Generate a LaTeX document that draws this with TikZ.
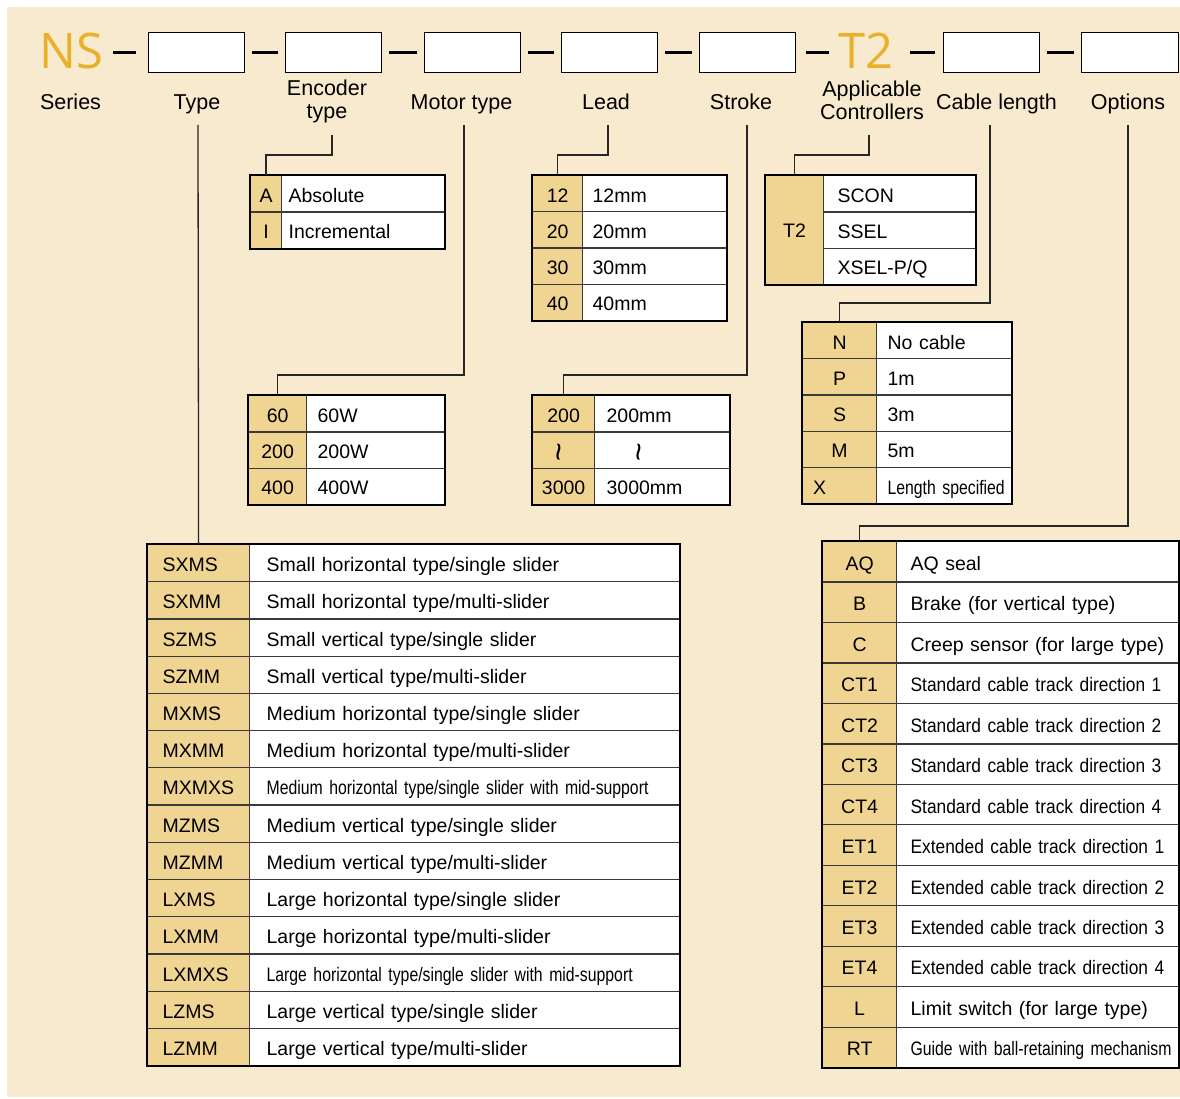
\documentclass[tikz,border=0pt]{standalone}
\usepackage{fontspec}
\usepackage{graphicx}
\setmainfont{Liberation Sans}
\newfontfamily\narrowsans{Liberation Sans}[FakeStretch=0.81,WordSpace=0.8]
\newfontfamily\semisans{Liberation Sans}[FakeStretch=0.89,WordSpace=0.85]
\newfontfamily\logofont{Open Sans}
\usetikzlibrary{positioning}
\definecolor{paper}{HTML}{F8EACE}
\definecolor{codefill}{HTML}{F0D491}
\definecolor{logoc}{HTML}{E9B129}
\definecolor{gridc}{HTML}{3A3A3A}
\newcommand\waveglyph{\rotatebox[origin=c]{90}{\fontsize{32}{32}\selectfont\textasciitilde}}
\tikzset{
  slot/.style={draw,fill=white,line width=1.3pt,minimum width=96pt,minimum height=40pt,inner sep=0pt},
  logo/.style={text=logoc,font=\logofont\fontsize{49}{49}\selectfont,inner sep=0pt},
  hyphen/.style={line width=2.6pt},
  lbl/.style={font=\fontsize{21.5}{23}\selectfont,inner sep=0pt,align=center},
  code/.style={draw=gridc,fill=codefill,line width=1.2pt,inner sep=0pt,anchor=north west,text height=17pt,text depth=0pt,font=\fontsize{19.5}{22}\selectfont},
  desc/.style={draw=gridc,fill=white,line width=1.2pt,inner ysep=0pt,anchor=north west,align=left,text height=17pt,text depth=0pt,font=\fontsize{19.5}{22}\selectfont},
  frame/.style={draw=black,line width=2pt},
  link/.style={draw=black!85,line width=1.3pt}
}
\begin{document}
\begin{tikzpicture}[x=1pt,y=-1pt]
  \fill[white] (0,0) rectangle (1180,1099);
  \fill[paper] (7,7) rectangle (1180,1097);
  \useasboundingbox (0,0) rectangle (1180,1099);

  \node[logo] (ns) at (71,51) {NS};
  \node[slot,anchor=north west] (b1) at (148,32) {};
  \node[slot,anchor=north west] (b2) at (285,32) {};
  \node[slot,anchor=north west] (b3) at (424,32) {};
  \node[slot,anchor=north west] (b4) at (561,32) {};
  \node[slot,anchor=north west] (b5) at (699,32) {};
  \node[logo] (t2) at (866,51) {T2};
  \node[slot,anchor=north west] (b6) at (943,32) {};
  \node[slot,anchor=north west,minimum width=97pt] (b7) at (1081,32) {};
  \draw[hyphen,shorten <=10pt,shorten >=12pt] (ns.east |- b1.west) -- (b1.west);
  \draw[hyphen,shorten <=7pt,shorten >=7pt] (b1) -- (b2);
  \draw[hyphen,shorten <=7pt,shorten >=7pt] (b2) -- (b3);
  \draw[hyphen,shorten <=7pt,shorten >=7pt] (b3) -- (b4);
  \draw[hyphen,shorten <=7pt,shorten >=7pt] (b4) -- (b5);
  \draw[hyphen,shorten <=10pt,shorten >=9pt] (b5.east) -- (b5.east -| t2.west);
  \draw[hyphen,shorten <=16pt,shorten >=8pt] (t2.east |- b6.west) -- (b6.west);
  \draw[hyphen,shorten <=7pt,shorten >=7pt] (b6) -- (b7);

  \node[lbl,anchor=base] (serieslbl) at (70.5,110) {Series};
  \node[lbl,anchor=base] (typelbl) at (197,110) {Type};
  \node[lbl,anchor=base] (enclbl) at (327,119) {Encoder\\type};
  \node[lbl,anchor=base] (motorlbl) at (461.5,110) {Motor type};
  \node[lbl,anchor=base] (leadlbl) at (606,110) {Lead};
  \node[lbl,anchor=base] (strokelbl) at (741,110) {Stroke};
  \node[lbl,anchor=base] (ctrllbl) at (872,120) {Applicable\\Controllers};
  \node[lbl,anchor=base] (cablelbl) at (996.5,110) {Cable length};
  \node[lbl,anchor=base] (optlbl) at (1128,110) {Options};

  \node[code,minimum width=31pt,minimum height=36.5pt] (encA) at (250,175) {A};
  \node[desc,text width=149pt,inner xsep=7pt,minimum height=36.5pt] (encAd) at (281,175) {Absolute};
  \node[code,minimum width=31pt,minimum height=36.5pt] (encI) at (250,211.5) {I};
  \node[desc,text width=149pt,inner xsep=7pt,minimum height=36.5pt] (encId) at (281,211.5) {Incremental};
  \draw[frame] (encA.north west) rectangle (encId.south east);

  \foreach \v [count=\i] in {12,20,30,40}{
    \node[code,minimum width=50pt,minimum height=36.25pt] (lead\i) at (532,{175+(\i-1)*36.25}) {\v};
    \node[desc,text width=124pt,inner xsep=10pt,minimum height=36.25pt] (leadd\i) at (582,{175+(\i-1)*36.25}) {\v mm};
  }
  \draw[frame] (lead1.north west) rectangle (leadd4.south east);

  \node[code,minimum width=58pt,minimum height=109pt,text height=14pt] (ctrlT) at (765,175) {T2};
  \foreach \ds [count=\i] in {SCON,SSEL,XSEL-P/Q}{
    \node[desc,text width=124pt,inner xsep=14pt,minimum height=36.33pt] (ctrld\i) at (823,{175+(\i-1)*36.33}) {\ds};
  }
  \draw[frame] (ctrlT.north west) rectangle (ctrld3.south east);

  \foreach \v [count=\i] in {60,200,400}{
    \node[code,minimum width=58pt,minimum height=36.33pt] (motor\i) at (248,{395+(\i-1)*36.33}) {\v};
    \node[desc,text width=116pt,inner xsep=11pt,minimum height=36.33pt] (motord\i) at (306,{395+(\i-1)*36.33}) {\v W};
  }
  \draw[frame] (motor1.north west) rectangle (motord3.south east);

  \foreach \cd/\ds [count=\i] in {200/200mm,\waveglyph/{\hspace*{30pt}\waveglyph},3000/3000mm}{
    \node[code,minimum width=62pt,minimum height=36.33pt] (stroke\i) at (532,{395+(\i-1)*36.33}) {\cd};
    \node[desc,text width=111pt,inner xsep=12pt,minimum height=36.33pt] (stroked\i) at (594,{395+(\i-1)*36.33}) {\ds};
  }
  \draw[frame] (stroke1.north west) rectangle (stroked3.south east);

  \foreach \cd/\ds [count=\i] in {N/No cable,P/1m,S/3m,M/5m,{X\hspace*{40pt}}/{\mbox{\narrowsans Length specified}}}{
    \node[code,minimum width=74pt,minimum height=36.2pt] (cable\i) at (802,{322+(\i-1)*36.2}) {\cd};
    \node[desc,text width=113pt,inner xsep=11pt,minimum height=36.2pt] (cabled\i) at (876,{322+(\i-1)*36.2}) {\ds};
  }
  \draw[frame] (cable1.north west) rectangle (cabled5.south east);

  \foreach \cd/\ds [count=\i] in {
    SXMS/{Small horizontal type/single slider},
    SXMM/{Small horizontal type/multi-slider},
    SZMS/{Small vertical type/single slider},
    SZMM/{Small vertical type/multi-slider},
    MXMS/{Medium horizontal type/single slider},
    MXMM/{Medium horizontal type/multi-slider},
    MXMXS/{\mbox{\narrowsans Medium horizontal type/single slider with mid-support}},
    MZMS/{Medium vertical type/single slider},
    MZMM/{Medium vertical type/multi-slider},
    LXMS/{Large horizontal type/single slider},
    LXMM/{Large horizontal type/multi-slider},
    LXMXS/{\mbox{\narrowsans Large horizontal type/single slider with mid-support}},
    LZMS/{Large vertical type/single slider},
    LZMM/{Large vertical type/multi-slider}}{
    \node[code,text width=72pt,inner xsep=15pt,align=left,minimum height=37.21pt] (type\i) at (147,{544+(\i-1)*37.21}) {\cd};
    \node[desc,text width=396pt,inner xsep=17pt,minimum height=37.21pt] (typed\i) at (249,{544+(\i-1)*37.21}) {\ds};
  }
  \draw[frame] (type1.north west) rectangle (typed14.south east);

  \foreach \cd/\ds [count=\i] in {
    AQ/AQ seal,
    B/Brake (for vertical type),
    C/Creep sensor (for large type),
    CT1/{\mbox{\semisans Standard cable track direction 1}},
    CT2/{\mbox{\semisans Standard cable track direction 2}},
    CT3/{\mbox{\semisans Standard cable track direction 3}},
    CT4/{\mbox{\semisans Standard cable track direction 4}},
    ET1/{\mbox{\semisans Extended cable track direction 1}},
    ET2/{\mbox{\semisans Extended cable track direction 2}},
    ET3/{\mbox{\semisans Extended cable track direction 3}},
    ET4/{\mbox{\semisans Extended cable track direction 4}},
    L/Limit switch (for large type),
    RT/{\mbox{\narrowsans Guide with ball-retaining mechanism}}}{
    \node[code,minimum width=74pt,minimum height=40.46pt] (opt\i) at (822,{541+(\i-1)*40.46}) {\cd};
    \node[desc,text width=254pt,inner xsep=14pt,minimum height=40.46pt] (optd\i) at (896,{541+(\i-1)*40.46}) {\ds};
  }
  \draw[frame] (opt1.north west) rectangle (optd13.south east);

  \coordinate (typefoot) at (198,125);
  \coordinate (encfoot) at (332,135);
  \coordinate (motorfoot) at (464,125);
  \coordinate (leadfoot) at (608,125);
  \coordinate (strokefoot) at (747,125);
  \coordinate (ctrlfoot) at (869,135);
  \coordinate (cablefoot) at (990,125);
  \coordinate (optfoot) at (1128,125);
  \draw[link] (typefoot) -- (type1.north);
  \draw[link] (encfoot) -- ++(0,20) -| (encA.north);
  \draw[link] (motorfoot) -- ++(0,250) -| (motor1.north);
  \draw[link] (leadfoot) -- ++(0,30) -| (lead1.north);
  \draw[link] (strokefoot) -- ++(0,250) -| (stroke1.north);
  \draw[link] (ctrlfoot) -- ++(0,20) -| (ctrlT.north);
  \draw[link] (cablefoot) -- ++(0,178) -| (cable1.north);
  \draw[link] (optfoot) -- ++(0,401) -| (opt1.north);
\end{tikzpicture}
\end{document}
